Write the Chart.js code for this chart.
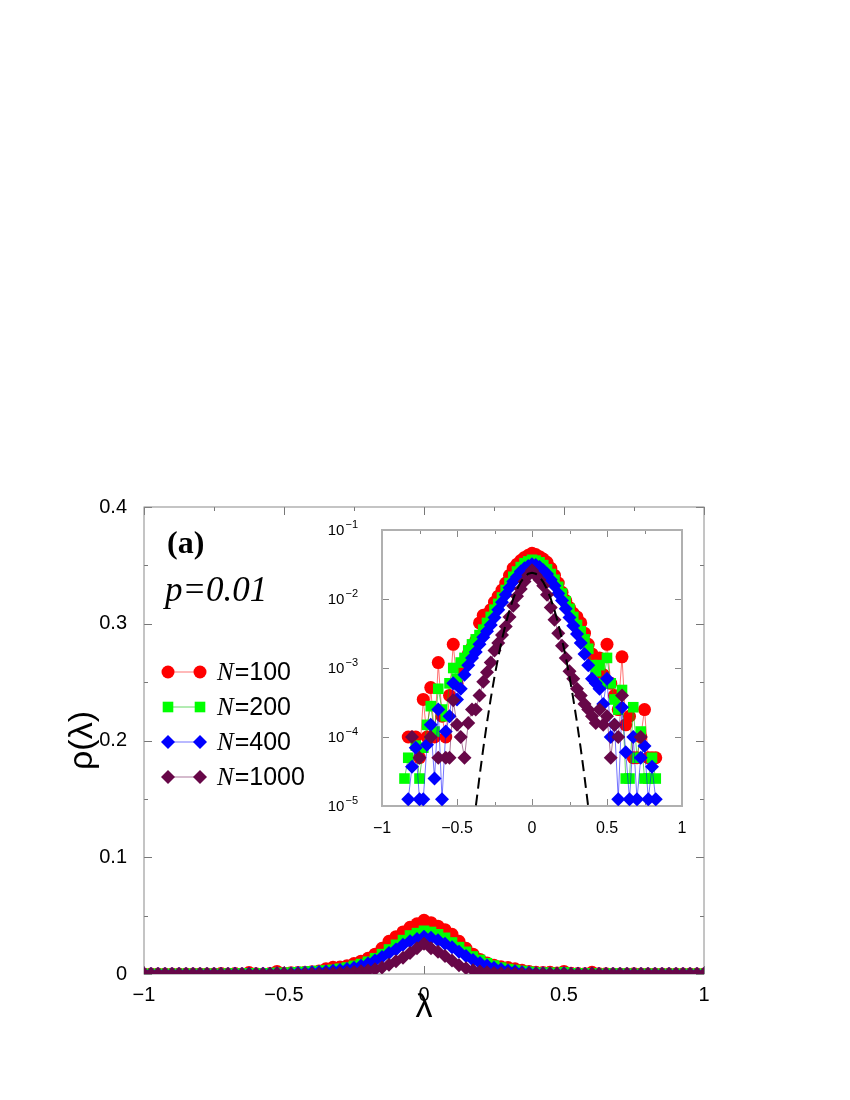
<!DOCTYPE html>
<html>
<head>
<meta charset="utf-8">
<script src="https://cdn.jsdelivr.net/npm/chart.js@4.4.1/dist/chart.umd.min.js"></script>
<style>
  html, body { margin: 0; padding: 0; background: #fff; }
  #wrap  { position: relative; width: 850px; height: 1100px; }
  #main  { position: absolute; left: 0; top: 0; }
  #inset { position: absolute; left: 300px; top: 500px; }
</style>
</head>
<body>
<div id="wrap">
  <canvas id="main" width="850" height="1100"></canvas>
  <canvas id="inset" width="410" height="350"></canvas>
</div>
<script>
/* ---- data (bin centres and densities) ---- */
var LAMBDA = [
  -1, -0.975, -0.95, -0.925, -0.9, -0.875, -0.85, -0.825, -0.8, -0.775,
  -0.75, -0.725, -0.7, -0.675, -0.65, -0.625, -0.6, -0.575, -0.55, -0.525,
  -0.5, -0.475, -0.45, -0.425, -0.4, -0.375, -0.35, -0.325, -0.3, -0.275,
  -0.25, -0.225, -0.2, -0.175, -0.15, -0.125, -0.1, -0.075, -0.05, -0.025,
  0, 0.025, 0.05, 0.075, 0.1, 0.125, 0.15, 0.175, 0.2, 0.225,
  0.25, 0.275, 0.3, 0.325, 0.35, 0.375, 0.4, 0.425, 0.45, 0.475,
  0.5, 0.525, 0.55, 0.575, 0.6, 0.625, 0.65, 0.675, 0.7, 0.725,
  0.75, 0.775, 0.8, 0.825, 0.85, 0.875, 0.9, 0.925, 0.95, 0.975, 1
];

var RHO_N100 = [
  0, 0, 0, 0, 0, 0, 0, 1e-4, 1e-4, 1e-4,
  5e-5, 3.5e-4, 1e-4, 5.2e-4, 1e-4, 1.2e-3, 2e-4, 1e-4, 4e-4, 2.2e-3,
  6e-4, 1e-3, 1.2e-3, 1.6e-3, 2e-3, 2.5e-3, 4.5e-3, 5.8e-3, 6e-3, 7e-3,
  9e-3, 0.011, 0.0135, 0.017, 0.022, 0.028, 0.032, 0.036, 0.040, 0.043,
  0.046, 0.044, 0.041, 0.038, 0.034, 0.028, 0.022, 0.017, 0.0125, 0.0095,
  0.0075, 0.0062, 0.0055, 0.0045, 0.0032, 0.0022, 0.0016, 0.0013, 0.0014, 8e-4,
  2.2e-3, 6e-4, 4e-4, 2.5e-4, 1.45e-3, 1.5e-4, 2e-4, 5e-5, 5e-5, 1e-4,
  2.5e-4, 5e-5, 5e-5, 5e-5, 0, 0, 0, 0, 0, 0, 0
];

var RHO_N200 = [
  0, 0, 0, 0, 0, 0, 2.5e-5, 5e-5, 0, 7.5e-5,
  2.5e-5, 7e-5, 1.5e-4, 2.8e-4, 1.2e-4, 5e-4, 2.5e-4, 2e-4, 6e-4, 1e-3,
  7e-4, 1.2e-3, 1.4e-3, 1.8e-3, 2.2e-3, 2.6e-3, 3e-3, 3.6e-3, 4.5e-3, 5.5e-3,
  7e-3, 8.5e-3, 0.0105, 0.0135, 0.017, 0.021, 0.025, 0.029, 0.033, 0.035,
  0.037, 0.036, 0.034, 0.031, 0.027, 0.023, 0.019, 0.015, 0.012, 0.0092,
  0.0072, 0.0055, 0.0042, 0.0034, 0.0026, 0.0019, 0.0011, 9e-4, 1.1e-3, 6e-4,
  1.4e-3, 6e-4, 3.5e-4, 2.5e-4, 4.8e-4, 2.5e-5, 2.5e-5, 2.7e-4, 5e-5, 1.2e-4,
  2.5e-5, 2.5e-5, 5e-5, 2.5e-5, 0, 0, 0, 0, 0, 0, 0
];

var RHO_N400 = [
  0, 0, 0, 0, 0, 0, 0, 1.25e-5, 3.7e-5, 7e-5,
  1.25e-5, 1.25e-5, 7.7e-5, 1.5e-4, 2.5e-5, 2.5e-4, 1.25e-5, 1.2e-4, 2e-4, 6e-4,
  3.5e-4, 5e-4, 8e-4, 1.1e-3, 1.4e-3, 1.7e-3, 2.2e-3, 2.8e-3, 3.4e-3, 4.2e-3,
  5.4e-3, 7e-3, 9e-3, 0.0115, 0.0145, 0.018, 0.021, 0.025, 0.028, 0.030,
  0.032, 0.031, 0.029, 0.026, 0.023, 0.019, 0.0155, 0.012, 0.0095, 0.0072,
  0.0054, 0.0041, 0.0031, 0.0023, 0.0016, 1.1e-3, 7e-4, 6e-4, 5e-4, 3e-4,
  7e-4, 1e-4, 1.5e-4, 1.25e-5, 2.7e-4, 6e-5, 1.25e-5, 1e-4, 1.25e-5, 5e-5,
  7.4e-5, 1.25e-5, 3.7e-5, 1.25e-5, 0, 0, 0, 0, 0, 0, 0
];

var RHO_N1000 = [
  0, 0, 0, 0, 0, 0, 0, 0, 1e-4, 0,
  5e-5, 0, 0, 1e-4, 0, 5e-5, 0, 5e-5, 5e-5, 3.4e-4,
  1.5e-4, 1e-4, 5e-5, 1.6e-4, 2.5e-4, 2.5e-4, 4e-4, 6.3e-4, 8.7e-4, 1.2e-3,
  1.8e-3, 2.3e-3, 3e-3, 4e-3, 5.5e-3, 8e-3, 0.011, 0.014, 0.018, 0.022,
  0.026, 0.022, 0.019, 0.0155, 0.0115, 0.0075, 0.005, 0.0032, 0.0021, 0.0014,
  9e-4, 7e-4, 5e-4, 4e-4, 3e-4, 2.5e-4, 2e-4, 1.6e-4, 2.5e-4, 1.5e-4,
  2e-4, 5e-5, 1.5e-4, 1e-4, 4e-4, 0, 0, 0, 0, 1e-4,
  0, 0, 0, 0, 0, 0, 0, 0, 0, 0, 0
];

// dashed reference curve in the inset
var FIT_LAMBDA = [
  -0.4, -0.375, -0.35, -0.325, -0.3, -0.275, -0.25, -0.225, -0.2, -0.175,
  -0.15, -0.125, -0.1, -0.075, -0.05, -0.025, 0, 0.025, 0.05, 0.075,
  0.1, 0.125, 0.15, 0.175, 0.2, 0.225, 0.25, 0.275, 0.3, 0.325,
  0.35, 0.375, 0.4
];
var FIT_RHO = [
  3.3e-6, 9.7e-6, 2.66e-5, 6.8e-5, 1.62e-4, 3.6e-4, 7.5e-4, 1.44e-3, 2.6e-3, 4.38e-3,
  6.88e-3, 0.0101, 0.0138, 0.0176, 0.0209, 0.0232, 0.024, 0.0232, 0.0209, 0.0176,
  0.0138, 0.0101, 6.88e-3, 4.38e-3, 2.6e-3, 1.44e-3, 7.5e-4, 3.6e-4, 1.62e-4, 6.8e-5,
  2.66e-5, 9.7e-6, 3.3e-6
];

var SIZES = ['100', '200', '400', '1000'];

var MAIN_X_TICKS  = [-1, -0.5, 0, 0.5, 1];
var MAIN_X_LABELS = ['\u22121', '\u22120.5', '0', '0.5', '1'];
var MAIN_Y_TICKS  = [0, 0.1, 0.2, 0.3, 0.4];
var MAIN_Y_LABELS = ['0', '0.1', '0.2', '0.3', '0.4'];
var INSET_X_TICKS  = [-1, -0.5, 0, 0.5, 1];
var INSET_X_LABELS = ['\u22121', '\u22120.5', '0', '0.5', '1'];
var INSET_Y_TICKS  = [1e-5, 1e-4, 1e-3, 1e-2, 1e-1];
var INSET_Y_EXPONENTS = ['\u22125', '\u22124', '\u22123', '\u22122', '\u22121'];

/* ---- styles ---- */
var SANS  = '"Liberation Sans", Arial, Helvetica, sans-serif';
var SERIF = '"Liberation Serif", "Times New Roman", serif';

var STYLES = [
  { color: '#ff0000', line: 'rgba(255,0,0,0.55)',   shape: 'circle',  r: 6.5, order: 4 },
  { color: '#00ff00', line: 'rgba(0,190,0,0.6)',    shape: 'rect',    r: 7.5, order: 3 },
  { color: '#0000ff', line: 'rgba(0,0,255,0.55)',   shape: 'rectRot', r: 7,   order: 2 },
  { color: '#670748', line: 'rgba(103,7,72,0.55)',  shape: 'rectRot', r: 7,   order: 1 }
];
var SERIES_VALUES = [RHO_N100, RHO_N200, RHO_N400, RHO_N1000];

function labelFrom(ticks, labels) {
  return function (v) {
    for (var k = 0; k < ticks.length; k++) {
      if (Math.abs(ticks[k] - v) < 1e-9 * Math.max(1, Math.abs(v)) ||
          (ticks[k] !== 0 && Math.abs(ticks[k] / v - 1) < 1e-6)) return labels[k];
    }
    return '';
  };
}

function buildDatasets(forLog) {
  return SERIES_VALUES.map(function (vals, s) {
    var st = STYLES[s];
    return {
      label: 'N=' + SIZES[s],
      data: LAMBDA.map(function (x, i) {
        var v = vals[i];
        return { x: x, y: (forLog && v === 0) ? null : v };
      }),
      borderColor: st.line,
      borderWidth: 1,
      pointStyle: st.shape,
      pointRadius: st.r,
      pointBackgroundColor: st.color,
      pointBorderColor: st.color,
      pointBorderWidth: 0,
      order: st.order,
      tension: 0
    };
  });
}

/* frame box + inward tick marks on all four sides */
var frameTicks = {
  id: 'frameTicks',
  beforeDatasetsDraw: function (chart, args, o) {
    var a = chart.chartArea, ctx = chart.ctx;
    var xs = chart.scales.x, ys = chart.scales.y;
    ctx.save();
    ctx.strokeStyle = o.tickColor;
    ctx.lineWidth = 1;
    ctx.beginPath();
    xs.ticks.forEach(function (t) {
      var px = Math.round(xs.getPixelForValue(t.value)) + 0.5;
      var len = t.label ? o.major : o.minor;
      ctx.moveTo(px, a.bottom); ctx.lineTo(px, a.bottom - len);
      ctx.moveTo(px, a.top);    ctx.lineTo(px, a.top + len);
    });
    ys.ticks.forEach(function (t) {
      var py = Math.round(ys.getPixelForValue(t.value)) + 0.5;
      var len = t.label ? o.major : o.minor;
      ctx.moveTo(a.left, py);  ctx.lineTo(a.left + len, py);
      ctx.moveTo(a.right, py); ctx.lineTo(a.right - len, py);
    });
    ctx.stroke();
    ctx.strokeStyle = o.frameColor;
    ctx.lineWidth = o.frameWidth;
    ctx.strokeRect(a.left, a.top, a.right - a.left, a.bottom - a.top);
    ctx.restore();
  }
};

/* 10^n labels for the log axis, exponent raised */
var powerLabels = {
  id: 'powerLabels',
  afterDraw: function (chart, args, o) {
    var ys = chart.scales.y, ctx = chart.ctx, a = chart.chartArea;
    ctx.save();
    ctx.fillStyle = '#000';
    ctx.textBaseline = 'middle';
    ctx.textAlign = 'left';
    INSET_Y_TICKS.forEach(function (v, k) {
      var py = ys.getPixelForValue(v);
      var exp = INSET_Y_EXPONENTS[k];
      ctx.font = o.expSize + 'px ' + SANS;
      var ew = ctx.measureText(exp).width;
      ctx.font = o.baseSize + 'px ' + SANS;
      var bw = ctx.measureText('10').width;
      var right = a.left - o.gap;
      ctx.fillText('10', right - ew - bw - 1, py + 1);
      ctx.font = o.expSize + 'px ' + SANS;
      ctx.fillText(exp, right - ew, py - 5);
    });
    ctx.restore();
  }
};

/* panel label, parameter and legend inside the main plot */
var annotations = {
  id: 'annotations',
  afterDraw: function (chart) {
    var ctx = chart.ctx;
    var drawPoint = Chart.helpers.drawPoint;
    ctx.save();
    ctx.fillStyle = '#000';
    ctx.textBaseline = 'middle';
    ctx.textAlign = 'left';
    ctx.font = 'bold 32px ' + SERIF;
    ctx.fillText('(a)', 167, 545);
    ctx.font = 'italic 35px ' + SERIF;
    ctx.fillText('p=0.01', 165, 592);

    var rowY = [672, 707, 742, 777];
    STYLES.forEach(function (st, s) {
      var y = rowY[s];
      ctx.strokeStyle = st.line;
      ctx.lineWidth = 1;
      ctx.beginPath();
      ctx.moveTo(168, y); ctx.lineTo(200, y);
      ctx.stroke();
      ctx.fillStyle = st.color;
      ctx.strokeStyle = st.color;
      [168, 200].forEach(function (x) {
        drawPoint(ctx, { pointStyle: st.shape, radius: st.r, rotation: 0, borderWidth: 0 }, x, y);
      });
      ctx.fillStyle = '#000';
      ctx.font = 'italic 25px ' + SERIF;
      ctx.fillText('N', 217, y + 1);
      var w = ctx.measureText('N').width;
      ctx.font = '25px ' + SANS;
      ctx.fillText('=' + SIZES[s], 217 + w + 1, y + 1);
    });
    ctx.restore();
  }
};

/* ---- main chart ---- */
new Chart(document.getElementById('main'), {
  type: 'line',
  data: { datasets: buildDatasets(false) },
  options: {
    responsive: false,
    animation: false,
    layout: { padding: { left: 0, top: 507, right: 146, bottom: 0 } },
    plugins: {
      legend: { display: false },
      tooltip: { enabled: false },
      frameTicks: { tickColor: '#777', frameColor: '#8a8a8a', frameWidth: 1, major: 8, minor: 4 }
    },
    scales: {
      x: {
        type: 'linear', min: -1, max: 1,
        afterFit: function (s) { s.height = 126; },
        grid: { display: false },
        border: { display: false },
        ticks: {
          stepSize: 0.25, autoSkip: false, maxRotation: 0, padding: 1,
          color: '#000', font: { family: SANS, size: 20 },
          callback: labelFrom(MAIN_X_TICKS, MAIN_X_LABELS)
        },
        title: {
          display: true, text: '\u03BB', color: '#000',
          font: { family: SANS, size: 34 },
          padding: { top: 0, bottom: 72 }
        }
      },
      y: {
        min: 0, max: 0.4,
        afterFit: function (s) { s.width = 144; },
        grid: { display: false },
        border: { display: false },
        ticks: {
          stepSize: 0.05, autoSkip: false, padding: 9,
          color: '#000', font: { family: SANS, size: 20 },
          callback: labelFrom(MAIN_Y_TICKS, MAIN_Y_LABELS)
        },
        title: {
          display: true, text: '\u03C1(\u03BB)', color: '#000',
          font: { family: SANS, size: 34 },
          padding: { top: 62, bottom: 0 }
        }
      }
    }
  },
  plugins: [frameTicks, annotations]
});

/* ---- inset (log scale) ---- */
var insetSets = buildDatasets(true);
insetSets.push({
  label: 'fit',
  data: FIT_LAMBDA.map(function (x, i) { return { x: x, y: FIT_RHO[i] }; }),
  borderColor: '#000',
  borderWidth: 2,
  borderDash: [11, 6],
  pointRadius: 0,
  order: 0,
  tension: 0
});

new Chart(document.getElementById('inset'), {
  type: 'line',
  data: { datasets: insetSets },
  options: {
    responsive: false,
    animation: false,
    layout: { padding: { left: 0, top: 30, right: 28, bottom: 0 } },
    plugins: {
      legend: { display: false },
      tooltip: { enabled: false },
      frameTicks: { tickColor: '#888', frameColor: '#b0b0b0', frameWidth: 2, major: 7, minor: 4 },
      powerLabels: { baseSize: 15, expSize: 11, gap: 24 }
    },
    scales: {
      x: {
        type: 'linear', min: -1, max: 1,
        afterFit: function (s) { s.height = 44; },
        grid: { display: false },
        border: { display: false },
        ticks: {
          stepSize: 0.25, autoSkip: false, maxRotation: 0, padding: 5,
          color: '#000', font: { family: SANS, size: 16 },
          callback: labelFrom(INSET_X_TICKS, INSET_X_LABELS)
        }
      },
      y: {
        type: 'logarithmic', min: 1e-5, max: 1e-1,
        afterFit: function (s) { s.width = 82; },
        afterBuildTicks: function (s) {
          s.ticks = INSET_Y_TICKS.map(function (v) { return { value: v }; });
        },
        grid: { display: false },
        border: { display: false },
        ticks: {
          display: false, autoSkip: false,
          callback: labelFrom(INSET_Y_TICKS, INSET_Y_EXPONENTS)
        }
      }
    }
  },
  plugins: [frameTicks, powerLabels]
});
</script>
</body>
</html>
